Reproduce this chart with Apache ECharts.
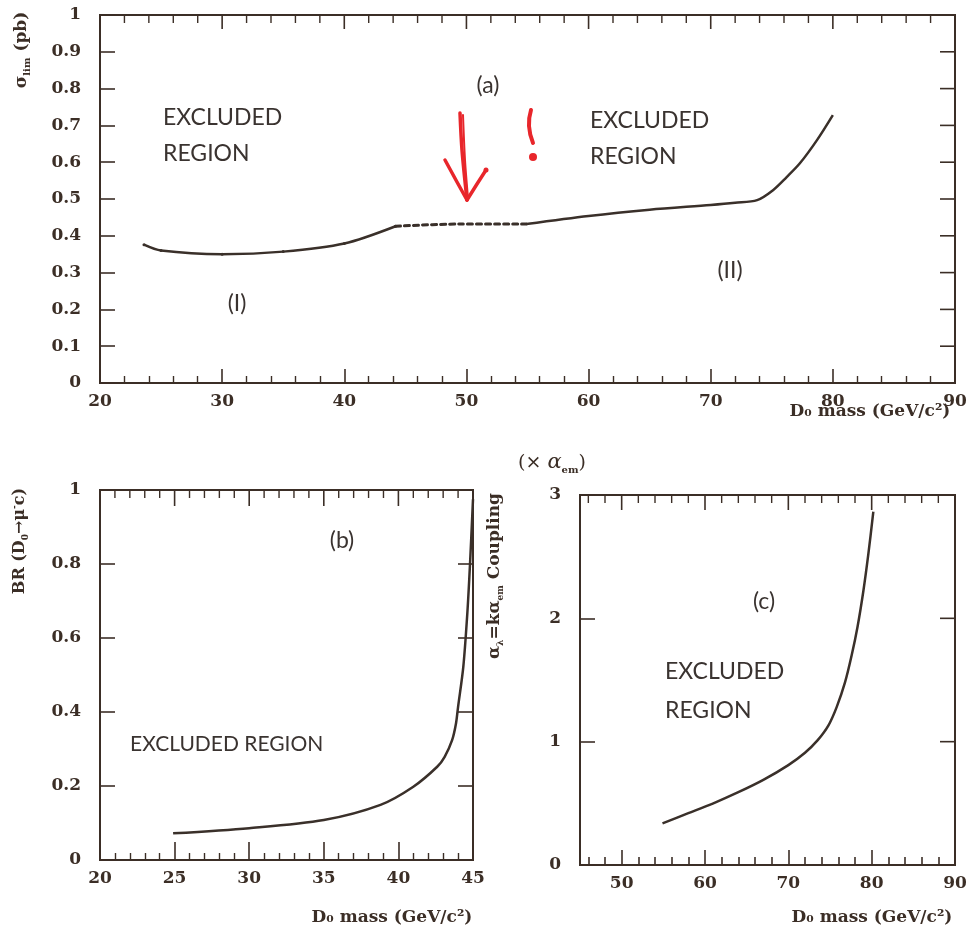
<!DOCTYPE html>
<html>
<head>
<meta charset="utf-8">
<script src="https://cdn.jsdelivr.net/npm/echarts@6/dist/echarts.min.js"></script>
<style>
  html, body { margin: 0; padding: 0; background: #ffffff; }
  #chart { width: 970px; height: 935px; }
</style>
</head>
<body>
<div id="chart"></div>
<script>
// (a) cross-section limit vs D0 mass: region (I), interpolated gap, region (II)
const massA1  = [23.6, 25.0, 30.0, 35.0, 40.0, 44.2];
const sigmaA1 = [0.376, 0.360, 0.350, 0.357, 0.379, 0.426];
const massA2  = [44.2, 49.5, 54.9];
const sigmaA2 = [0.426, 0.432, 0.432];
const massA3  = [54.9, 60.0, 65.0, 70.0, 72.0, 73.8, 75.1, 76.2, 77.3, 78.7, 80.0];
const sigmaA3 = [0.432, 0.454, 0.471, 0.484, 0.490, 0.497, 0.524, 0.559, 0.597, 0.660, 0.728];

// (b) branching ratio limit vs D0 mass
const massB = [24.9, 30.0, 35.0, 38.8, 41.0, 42.6, 43.1, 43.6, 43.86, 44.0, 44.35, 44.62, 44.8, 45.0];
const brB   = [0.072, 0.086, 0.108, 0.149, 0.198, 0.252, 0.279, 0.324, 0.369, 0.414, 0.522, 0.667, 0.800, 0.975];

// (c) coupling limit (x alpha_em) vs D0 mass
const massC     = [54.9, 58.0, 61.0, 64.0, 67.0, 70.0, 72.0, 73.5, 74.8, 75.8, 76.8, 77.6, 78.3, 79.0, 79.6, 80.2];
const couplingC = [0.338, 0.42, 0.50, 0.59, 0.69, 0.81, 0.91, 1.01, 1.13, 1.28, 1.48, 1.70, 1.93, 2.22, 2.52, 2.865];

// tick positions
const ticksA_xMajor = [20, 30, 40, 50, 60, 70, 80, 90];
const ticksA_y      = [0.1, 0.2, 0.3, 0.4, 0.5, 0.6, 0.7, 0.8, 0.9];
const ticksB_xMajor = [20, 25, 30, 35, 40, 45];
const ticksB_y      = [0.2, 0.4, 0.6, 0.8];
const ticksC_xMajor = [50, 60, 70, 80, 90];
const ticksC_y      = [1, 2];

const range = (a, b, step) => {
  const out = [];
  for (let v = a; v <= b + 1e-9; v += step) out.push(Math.round(v * 100) / 100);
  return out;
};
const minorOf = (lo, hi, step, majors) => range(lo, hi, step).filter(v => majors.indexOf(v) < 0);
const ticksA_xMinor = minorOf(20, 90, 2, ticksA_xMajor);
const ticksB_xMinor = minorOf(20, 45, 1, ticksB_xMajor);
const ticksC_xMinor = minorOf(46, 88, 2, ticksC_xMajor);

const pairs = (xs, ys) => xs.map((x, i) => [x, ys[i]]);

const ink = '#3b2e26';
const lineInk = '#3a302a';
const textInk = '#3a3330';
const red = '#e8262b';

const labelFont = {
  fontFamily: 'DejaVu Serif', fontWeight: 'bold', fontSize: 17, color: ink
};

// panel frames: rectangle in px and the value ranges of both axes
const panels = [
  { rect: [100, 15, 855, 368], x: [20, 90], y: [0, 1] },
  { rect: [100, 490, 373, 370], x: [20, 45], y: [0, 1] },
  { rect: [580, 495, 375, 370], x: [45, 90], y: [0, 3] }
];

function frameGrid(p) {
  const [l, t, w, h] = p.rect;
  return { left: l, top: t, width: w, height: h, outerBoundsMode: 'none',
           show: true, borderColor: ink, borderWidth: 2, backgroundColor: 'rgba(0,0,0,0)' };
}

function xAxisDef(grid, opts) {
  const p = panels[grid];
  const a = {
    type: 'value', gridIndex: grid, position: 'bottom', min: p.x[0], max: p.x[1],
    axisLine: { show: opts.line !== false, onZero: false, lineStyle: { color: ink, width: 2 } },
    axisTick: { show: true, inside: true, length: opts.len, lineStyle: { color: ink, width: 1.6 } },
    splitLine: { show: false },
    axisLabel: Object.assign({ show: !!opts.labels, margin: 10 }, labelFont)
  };
  if (opts.interval != null) a.interval = opts.interval;
  if (opts.minor) a.minorTick = { show: true, splitNumber: opts.minor, length: 7,
                                  lineStyle: { color: ink, width: 1.4 } };
  if (opts.values) {
    a.axisTick.customValues = opts.values;
    a.axisLabel.customValues = opts.values;
  }
  return a;
}

function yAxisDef(grid, interval) {
  const p = panels[grid];
  return {
    type: 'value', gridIndex: grid, position: 'left', min: p.y[0], max: p.y[1], interval: interval,
    axisLine: { show: true, onZero: false, lineStyle: { color: ink, width: 2 } },
    axisTick: { show: true, inside: true, length: 15, lineStyle: { color: ink, width: 1.6 } },
    splitLine: { show: false },
    axisLabel: Object.assign({ show: true, margin: 19 }, labelFont)
  };
}

// Tick marks along the top and right frame edges, mapped with each panel's linear scale.
function frameTicks(p, xMajor, xMinor, majorLen, yTicks) {
  const [l, t, w, h] = p.rect;
  const sx = v => l + (v - p.x[0]) / (p.x[1] - p.x[0]) * w;
  const sy = v => t + h - (v - p.y[0]) / (p.y[1] - p.y[0]) * h;
  const seg = (pts, lw) => ({
    type: 'polyline', silent: true, z: 10,
    shape: { points: pts },
    style: { stroke: ink, lineWidth: lw, fill: null }
  });
  const els = [];
  xMajor.forEach(v => els.push(seg([[sx(v), t], [sx(v), t + majorLen]], 1.6)));
  xMinor.forEach(v => els.push(seg([[sx(v), t], [sx(v), t + 8]], 1.4)));
  yTicks.forEach(v => els.push(seg([[l + w, sy(v)], [l + w - 15, sy(v)]], 1.6)));
  return els;
}

function label(x, y, text, extra) {
  return {
    type: 'text', x: x, y: y, silent: true,
    style: Object.assign({ text: text, font: '23px Lato', fill: textInk,
                           align: 'left', verticalAlign: 'middle' }, extra || {})
  };
}

const serifBold = 'DejaVu Serif';

const graphics = [
  // panel (a) annotations
  label(488, 86, '(a)', { align: 'center' }),
  label(163, 118, 'EXCLUDED'),
  label(163, 154, 'REGION'),
  label(590, 121, 'EXCLUDED'),
  label(590, 157, 'REGION'),
  label(237, 304, '(I)', { align: 'center' }),
  label(730, 271, '(II)', { align: 'center' }),
  // panel (b) annotations
  label(342, 541, '(b)', { align: 'center' }),
  label(130, 744, 'EXCLUDED REGION', { font: '21px Lato' }),
  // panel (c) annotations
  label(764, 602, '(c)', { align: 'center' }),
  label(665, 672, 'EXCLUDED'),
  label(665, 711, 'REGION'),

  // hand-drawn red arrow and exclamation mark
  { type: 'polyline', silent: true,
    shape: { points: [[460, 113], [462, 150], [467, 200]], smooth: 0.3 },
    style: { stroke: red, lineWidth: 3.5, fill: null, lineCap: 'round' } },
  { type: 'polyline', silent: true,
    shape: { points: [[463, 115], [465, 160], [468, 198]], smooth: 0.3 },
    style: { stroke: red, lineWidth: 2, fill: null, lineCap: 'round' } },
  { type: 'polyline', silent: true,
    shape: { points: [[445, 160], [457, 182], [467, 200]] },
    style: { stroke: red, lineWidth: 3.5, fill: null, lineCap: 'round', lineJoin: 'round' } },
  { type: 'polyline', silent: true,
    shape: { points: [[467, 200], [477, 184], [486, 170]] },
    style: { stroke: red, lineWidth: 3.5, fill: null, lineCap: 'round', lineJoin: 'round' } },
  { type: 'circle', silent: true, shape: { cx: 486, cy: 170, r: 2.5 }, style: { fill: red } },
  { type: 'polyline', silent: true,
    shape: { points: [[531, 110], [529, 126], [533, 143]], smooth: 0.5 },
    style: { stroke: red, lineWidth: 4, fill: null, lineCap: 'round' } },
  { type: 'circle', silent: true, shape: { cx: 533, cy: 157, r: 4 }, style: { fill: red } },

  // axis titles
  { type: 'text', silent: true, x: 22, y: 50, rotation: Math.PI / 2,
    style: {
      text: '{s|σ}{sub|lim}{s| (pb)}', align: 'center', verticalAlign: 'middle',
      rich: {
        s: { fontFamily: serifBold, fontWeight: 'bold', fontSize: 17, fill: ink, lineHeight: 20, verticalAlign: 'middle' },
        sub: { fontFamily: serifBold, fontWeight: 'bold', fontSize: 10, fill: ink, lineHeight: 20, verticalAlign: 'bottom' }
      }
    } },
  { type: 'text', silent: true, x: 870, y: 412,
    style: { text: 'D₀ mass (GeV/c²)', font: 'bold 17px "DejaVu Serif"', fill: ink,
             align: 'center', verticalAlign: 'middle' } },
  { type: 'text', silent: true, x: 20, y: 541, rotation: Math.PI / 2,
    style: {
      text: '{s|BR (D}{sub|0}{s|→μ}{sup|-}{s|c)}', align: 'center', verticalAlign: 'middle',
      rich: {
        s: { fontFamily: serifBold, fontWeight: 'bold', fontSize: 16, fill: ink, lineHeight: 20, verticalAlign: 'middle' },
        sub: { fontFamily: serifBold, fontWeight: 'bold', fontSize: 9, fill: ink, lineHeight: 20, verticalAlign: 'bottom' },
        sup: { fontFamily: serifBold, fontWeight: 'bold', fontSize: 9, fill: ink, lineHeight: 20, verticalAlign: 'top' }
      }
    } },
  { type: 'text', silent: true, x: 392, y: 918,
    style: { text: 'D₀ mass (GeV/c²)', font: 'bold 17px "DejaVu Serif"', fill: ink,
             align: 'center', verticalAlign: 'middle' } },
  { type: 'text', silent: true, x: 495, y: 576, rotation: Math.PI / 2,
    style: {
      text: '{s|α}{sub|λ}{s|=kα}{sub|em}{s| Coupling}', align: 'center', verticalAlign: 'middle',
      rich: {
        s: { fontFamily: serifBold, fontWeight: 'bold', fontSize: 17, fill: ink, lineHeight: 20, verticalAlign: 'middle' },
        sub: { fontFamily: serifBold, fontWeight: 'bold', fontSize: 9, fill: ink, lineHeight: 20, verticalAlign: 'bottom' }
      }
    } },
  { type: 'text', silent: true, x: 552, y: 463,
    style: {
      text: '{s|(× }{i|α}{sub|em}{s|)}', align: 'center', verticalAlign: 'middle',
      rich: {
        s: { fontFamily: 'DejaVu Serif', fontSize: 19, fill: ink, lineHeight: 24, verticalAlign: 'middle' },
        i: { fontFamily: 'DejaVu Serif', fontStyle: 'italic', fontSize: 21, fill: ink, lineHeight: 24, verticalAlign: 'middle' },
        sub: { fontFamily: 'DejaVu Serif', fontWeight: 'bold', fontSize: 10, fill: ink, lineHeight: 24, verticalAlign: 'bottom' }
      }
    } },
  { type: 'text', silent: true, x: 872, y: 918,
    style: { text: 'D₀ mass (GeV/c²)', font: 'bold 17px "DejaVu Serif"', fill: ink,
             align: 'center', verticalAlign: 'middle' } }
]
  .concat(frameTicks(panels[0], ticksA_xMajor, ticksA_xMinor, 14, ticksA_y))
  .concat(frameTicks(panels[1], ticksB_xMajor, ticksB_xMinor, 16, ticksB_y))
  .concat(frameTicks(panels[2], ticksC_xMajor, ticksC_xMinor, 15, ticksC_y));

const curveStyle = { color: lineInk, width: 2.5 };

const option = {
  backgroundColor: '#ffffff',
  animation: false,
  grid: panels.map(frameGrid),
  xAxis: [
    xAxisDef(0, { interval: 10, minor: 5, len: 14, labels: true }),
    xAxisDef(1, { interval: 5, minor: 5, len: 18, labels: true }),
    xAxisDef(2, { values: ticksC_xMajor, len: 15, labels: true }),
    xAxisDef(2, { values: ticksC_xMinor, len: 8, line: false })
  ],
  yAxis: [
    yAxisDef(0, 0.1),
    yAxisDef(1, 0.2),
    yAxisDef(2, 1)
  ],
  series: [
    { name: 'region I', type: 'line', xAxisIndex: 0, yAxisIndex: 0,
      data: pairs(massA1, sigmaA1), smooth: 0.3,
      symbol: 'circle', symbolSize: 3, itemStyle: { color: lineInk },
      lineStyle: curveStyle },
    { name: 'gap', type: 'line', xAxisIndex: 0, yAxisIndex: 0,
      data: pairs(massA2, sigmaA2), smooth: 0.3, symbol: 'none',
      lineStyle: { color: lineInk, width: 3, type: [5, 4], cap: 'round' } },
    { name: 'region II', type: 'line', xAxisIndex: 0, yAxisIndex: 0,
      data: pairs(massA3, sigmaA3), smooth: 0.3,
      symbol: 'none', lineStyle: curveStyle },
    { name: 'BR limit', type: 'line', xAxisIndex: 1, yAxisIndex: 1,
      data: pairs(massB, brB), smooth: 0.3, symbol: 'none',
      lineStyle: curveStyle },
    { name: 'coupling limit', type: 'line', xAxisIndex: 2, yAxisIndex: 2,
      data: pairs(massC, couplingC), smooth: 0.3, symbol: 'none',
      lineStyle: curveStyle }
  ],
  graphic: graphics
};

const chart = echarts.init(document.getElementById('chart'), null, { renderer: 'canvas' });
chart.setOption(option);
</script>
</body>
</html>
